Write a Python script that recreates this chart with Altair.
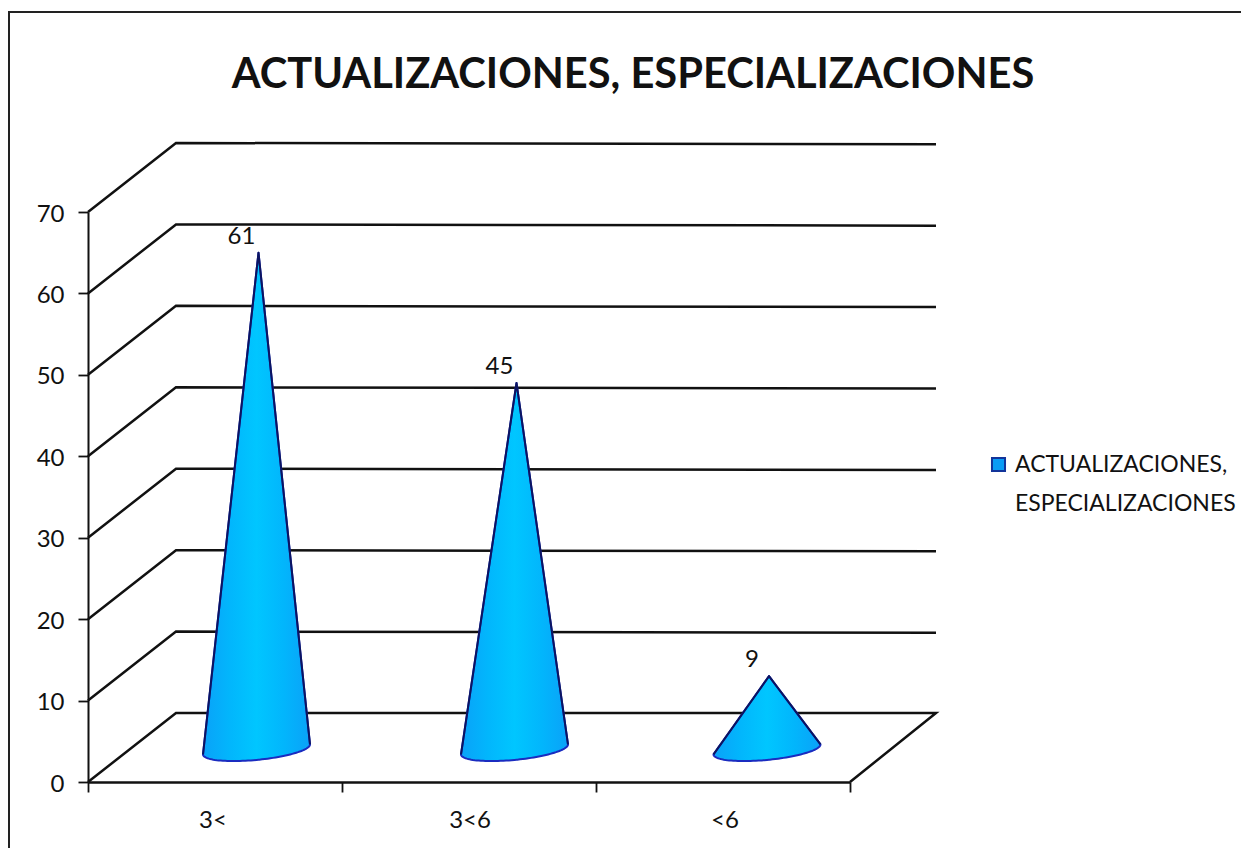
import math
import altair as alt
import pandas as pd

TITLE = "ACTUALIZACIONES, ESPECIALIZACIONES"
CATEGORIES = ["3<", "3<6", "<6"]
VALUES = [61, 45, 9]
Y_TICKS = [0, 10, 20, 30, 40, 50, 60, 70]
X_TICKS = [0, 1, 2, 3]
CONE_SHIFT_PX = [-1, 3, 1.5]
CAT_SHIFT_PX = [-2, 1, 2]

W, H = 762, 570
PX_X = W / 3
PX_Y = H / 70
DEPTH_X = 88 / PX_X
DEPTH_Y = 69 / PX_Y
END_X = 3 + 86 / PX_X
FONT = "Lato"
FS = 24

# 3-D wall / floor frame
grid = []
for lvl in Y_TICKS[1:]:
    pts = [(0, lvl), (DEPTH_X, lvl + DEPTH_Y), (END_X, lvl + DEPTH_Y - 1.2 / PX_Y)]
    grid += [dict(level=lvl, o=i, x=p[0], y=p[1]) for i, p in enumerate(pts)]
floor = [(0, 0), (DEPTH_X, DEPTH_Y), (END_X, DEPTH_Y), (3, 0)]
grid += [dict(level=0, o=i, x=p[0], y=p[1]) for i, p in enumerate(floor)]
grid_df = pd.DataFrame(grid)

# cones
RX = 53.5 / PX_X
TILT = 5 / PX_Y
B = 10.5 / PX_Y
BASE = 4.0
APEX_DX = 2 / PX_X
area_rows, edge_rows, label_rows = [], [], []
for i, (cat, v) in enumerate(zip(CATEGORIES, VALUES)):
    cx = i + 0.5 + DEPTH_X / 2 - 1.5 / PX_X + CONE_SHIFT_PX[i] / PX_X
    ax = cx + APEX_DX
    ay = v + BASE
    lx, ly = cx - RX, BASE - TILT
    rx, ry = cx + RX, BASE + TILT
    us = sorted([-math.cos(k * math.pi / 60) for k in range(61)] + [APEX_DX / RX])
    for u in us:
        x = cx + RX * u
        if x <= ax:
            top = ly + (ay - ly) * (x - lx) / (ax - lx)
        else:
            top = ry + (ay - ry) * (rx - x) / (rx - ax)
        bottom = BASE + TILT * u - B * math.sqrt(max(0, 1 - u * u))
        area_rows.append(dict(cat=cat, x=x, top=top, bottom=bottom))
    for o, (x, y) in enumerate([(lx, ly), (ax, ay), (rx, ry)]):
        edge_rows.append(dict(cat=cat, o=o, x=x, y=y))
    label_rows.append(dict(cat=cat, value=v, x=ax, y=ay))
area_df = pd.DataFrame(area_rows)
edge_df = pd.DataFrame(edge_rows)
label_df = pd.DataFrame(label_rows)
cat_df = pd.DataFrame(dict(cat=CATEGORIES, x=[i + 0.5 + CAT_SHIFT_PX[i] / PX_X for i in range(3)]))
legend_df = pd.DataFrame(dict(series=[TITLE], x=[0.0], y=[0.0]))

x_scale = alt.Scale(domain=[0, 3], nice=False, zero=False)
y_scale = alt.Scale(domain=[0, 70], nice=False, zero=False)

grid_layer = alt.Chart(grid_df).mark_line(color="#111111", strokeWidth=2.5, strokeJoin="miter").encode(
    x=alt.X("x:Q", scale=x_scale, axis=alt.Axis(
        values=X_TICKS, labels=False, title=None, grid=False, tickSize=10, tickWidth=1.8,
        tickColor="#111111", domainColor="#111111", domainWidth=2.5)),
    y=alt.Y("y:Q", scale=y_scale, axis=alt.Axis(
        values=Y_TICKS, title=None, grid=False, tickSize=10, tickWidth=1.8, tickColor="#111111",
        domainColor="#111111", domainWidth=2, labelFont=FONT, labelFontSize=FS, labelColor="#111111",
        labelPadding=14, labelOffset=2)),
    detail="level:N",
    order="o:Q",
)

gradient = alt.Gradient(
    gradient="linear", x1=0, x2=1, y1=0, y2=0,
    stops=[
        alt.GradientStop(color="#0aa2f8", offset=0),
        alt.GradientStop(color="#02b6fc", offset=0.25),
        alt.GradientStop(color="#00c6ff", offset=0.5),
        alt.GradientStop(color="#02b6fc", offset=0.75),
        alt.GradientStop(color="#0aa2f8", offset=1),
    ],
)
cone_layer = alt.Chart(area_df).mark_area(
    fill=gradient, stroke="#1a2cc0", strokeWidth=2, strokeJoin="round", orient="vertical", interpolate="linear"
).encode(x="x:Q", y="top:Q", y2="bottom:Q", detail="cat:N")

edge_layer = alt.Chart(edge_df).mark_line(color="#0c1460", strokeWidth=2, strokeJoin="round").encode(
    x="x:Q", y="y:Q", detail="cat:N", order="o:Q"
)

value_layer = alt.Chart(label_df).mark_text(
    font=FONT, fontSize=FS, color="#111111", dx=-17, dy=-16
).encode(x="x:Q", y="y:Q", text="value:Q")

cat_layer = alt.Chart(cat_df).mark_text(
    font=FONT, fontSize=FS, color="#111111"
).encode(x="x:Q", y=alt.value(H + 39), text="cat:N")

legend_layer = alt.Chart(legend_df).mark_square(size=0).encode(
    x="x:Q", y="y:Q",
    color=alt.Color("series:N", scale=alt.Scale(range=["#0a9cf5"]), legend=alt.Legend(
        orient="none", legendX=899, legendY=241, title=None, symbolType="square", symbolSize=170,
        symbolFillColor="#0a9cf5", symbolStrokeColor="#12349a", symbolStrokeWidth=2, symbolOpacity=1,
        labelFont=FONT, labelFontSize=23, labelColor="#111111", labelLimit=400, labelOffset=5,
        labelExpr="['ACTUALIZACIONES,', 'ESPECIALIZACIONES']",
    )),
)

frame_left = alt.Chart(pd.DataFrame(dict(k=[0]))).mark_rule(color="#222222", strokeWidth=2).encode(
    x=alt.value(-79), y=alt.value(-201), y2=alt.value(H + 66)
)
frame_top = alt.Chart(pd.DataFrame(dict(k=[0]))).mark_rule(color="#222222", strokeWidth=2).encode(
    y=alt.value(-200), x=alt.value(-79), x2=alt.value(W + 391)
)

chart = alt.layer(
    frame_left, frame_top, grid_layer, cone_layer, edge_layer, value_layer, cat_layer, legend_layer
).properties(
    width=W, height=H,
    title=alt.TitleParams(TITLE, font=FONT, fontSize=41.6, fontWeight="bold", color="#111111",
                          anchor="middle", dx=164, offset=0, dy=87),
    autosize=alt.AutoSizeParams(type="none"),
    padding={"left": 80, "top": 204, "right": 391, "bottom": 66},
).configure(
    style={"guide-label": {"lineHeight": 39}}
).configure_view(stroke=None)

chart.save("out.html", embed_options={"renderer": "svg", "actions": False})
